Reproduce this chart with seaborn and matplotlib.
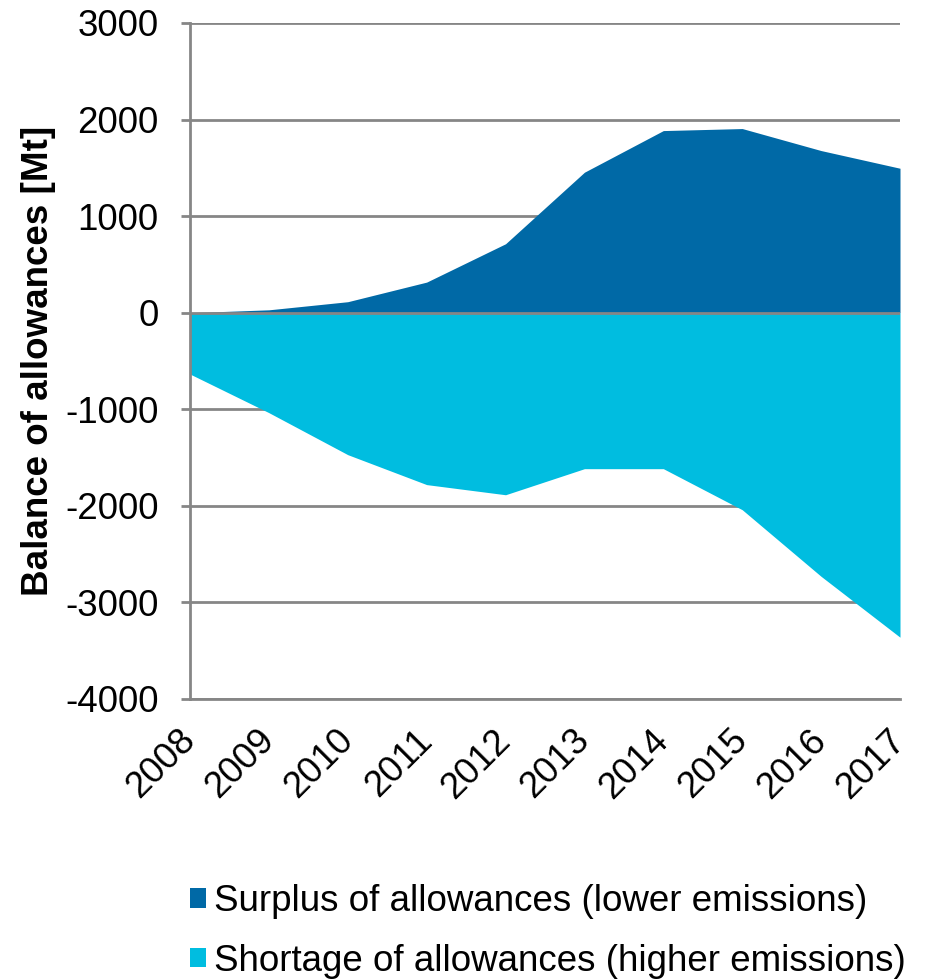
import matplotlib
matplotlib.use("Agg")
import matplotlib.pyplot as plt
import seaborn as sns
import pandas as pd
from matplotlib.patches import Patch

years = [2008, 2009, 2010, 2011, 2012, 2013, 2014, 2015, 2016, 2017]
surplus = [0, 30, 114, 317, 714, 1455, 1886, 1907, 1679, 1496]
shortage = [-635, -1035, -1470, -1780, -1885, -1615, -1615, -2040, -2730, -3360]
yticks = [3000, 2000, 1000, 0, -1000, -2000, -3000, -4000]
labels = ["Surplus of allowances (lower emissions)", "Shortage of allowances (higher emissions)"]
colors = ["#0069A6", "#00BDE0"]

df = pd.DataFrame({"year": years, "surplus": surplus, "shortage": shortage})

sns.set_theme(style="white")
plt.rcParams["font.family"] = ["Liberation Sans", "DejaVu Sans"]
plt.rcParams["text.color"] = "black"
plt.rcParams["axes.labelcolor"] = "black"
plt.rcParams["xtick.color"] = "black"
plt.rcParams["ytick.color"] = "black"

FS = 26.5
W, H = 927, 980
fig = plt.figure(figsize=(W / 100, H / 100), dpi=100)
ax = fig.add_axes([190 / W, 1 - 699 / H, (900 - 190) / W, (699 - 23) / H])

ax.fill_between(df["year"], 0, df["surplus"], color=colors[0], linewidth=0, zorder=2)
ax.fill_between(df["year"], 0, df["shortage"], color=colors[1], linewidth=0, zorder=2)

ax.set_xlim(years[0], years[-1])
ax.set_ylim(-4000, 3000)
ax.set_yticks(yticks)
ax.set_yticklabels([str(v) for v in yticks], fontsize=FS)
ax.set_xticks(years)
ax.set_xticklabels([str(y) for y in years], fontsize=FS, rotation=45,
                   ha="right", va="center", rotation_mode="anchor")

grid_c = "#868686"
for v in yticks:
    ax.axhline(v, color=grid_c, linewidth=2, zorder=3 if v == 0 else 1)
for s in ["top", "right"]:
    ax.spines[s].set_visible(False)
ax.spines["left"].set_color(grid_c)
ax.spines["left"].set_linewidth(2)
ax.spines["left"].set_zorder(4)
ax.spines["bottom"].set_color(grid_c)
ax.spines["bottom"].set_linewidth(2)
ax.tick_params(axis="y", which="major", left=True, length=6.5, width=2, color=grid_c, pad=16, labelcolor="black")
ax.tick_params(axis="x", which="major", bottom=False, length=0, pad=26, labelcolor="black")

ax.set_ylabel("Balance of allowances [Mt]", fontsize=FS, fontweight="bold", labelpad=7, color="black")

handles = [Patch(facecolor=c, edgecolor="none") for c in colors]
fig.legend(handles, labels, loc="upper left", bbox_to_anchor=(190 / W, 1 - 884 / H),
           frameon=False, fontsize=FS, handlelength=0.44, handleheight=0.44,
           handletextpad=0.2, labelspacing=0.67, borderaxespad=0, borderpad=0,
           labelcolor="black")

fig.savefig("out.png", dpi=100)
